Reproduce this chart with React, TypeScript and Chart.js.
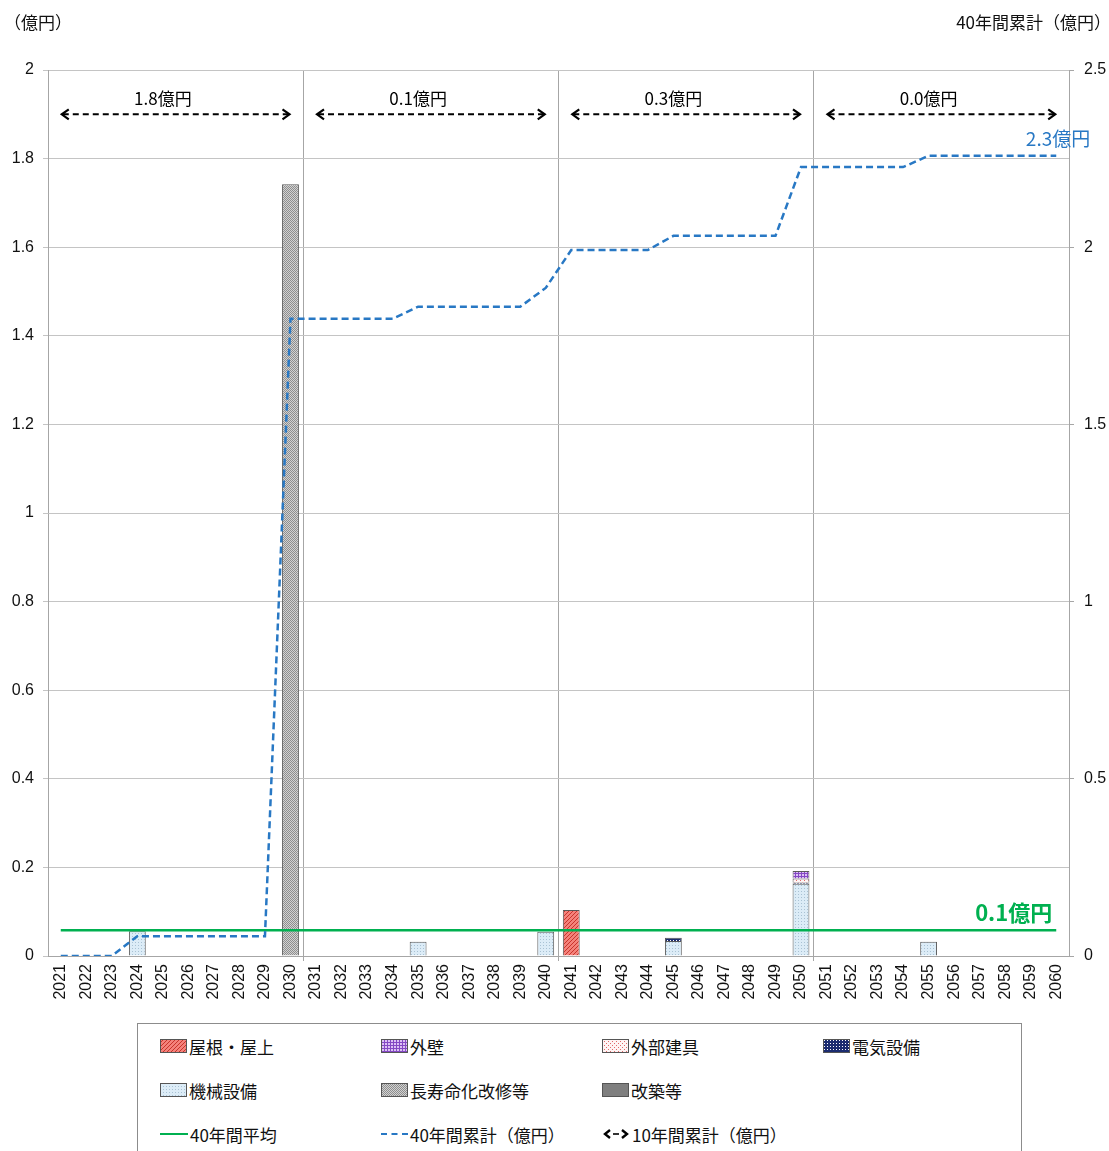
import React, { useEffect, useRef } from "react";
import { Chart, registerables } from "chart.js";
Chart.register(...registerables);

const years = [
  "2021", "2022", "2023", "2024", "2025", "2026", "2027", "2028", "2029", "2030",
  "2031", "2032", "2033", "2034", "2035", "2036", "2037", "2038", "2039", "2040",
  "2041", "2042", "2043", "2044", "2045", "2046", "2047", "2048", "2049", "2050",
  "2051", "2052", "2053", "2054", "2055", "2056", "2057", "2058", "2059", "2060",
];
const N = null;
// 機械設備
const kikaiSetsubi = [
  N, N, N, 0.056, N, N, N, N, N, N,
  N, N, N, N, 0.032, N, N, N, N, 0.055,
  N, N, N, N, 0.034, N, N, N, N, 0.163,
  N, N, N, N, 0.032, N, N, N, N, N,
];
// 電気設備
const denkiSetsubi = [
  N, N, N, N, N, N, N, N, N, N,
  N, N, N, N, N, N, N, N, N, N,
  N, N, N, N, 0.007, N, N, N, N, 0.003,
  N, N, N, N, N, N, N, N, N, N,
];
// 外部建具
const gaibuTategu = [
  N, N, N, N, N, N, N, N, N, N,
  N, N, N, N, N, N, N, N, N, N,
  N, N, N, N, N, N, N, N, N, 0.009,
  N, N, N, N, N, N, N, N, N, N,
];
// 外壁
const gaiheki = [
  N, N, N, N, N, N, N, N, N, N,
  N, N, N, N, N, N, N, N, N, N,
  N, N, N, N, N, N, N, N, N, 0.017,
  N, N, N, N, N, N, N, N, N, N,
];
// 屋根・屋上
const yane = [
  N, N, N, N, N, N, N, N, N, N,
  N, N, N, N, N, N, N, N, N, N,
  0.104, N, N, N, N, N, N, N, N, N,
  N, N, N, N, N, N, N, N, N, N,
];
// 長寿命化改修等
const chojumyo = [
  N, N, N, N, N, N, N, N, N, 1.742,
  N, N, N, N, N, N, N, N, N, N,
  N, N, N, N, N, N, N, N, N, N,
  N, N, N, N, N, N, N, N, N, N,
];
// 改築等
const kaichiku = [
  N, N, N, N, N, N, N, N, N, N,
  N, N, N, N, N, N, N, N, N, N,
  N, N, N, N, N, N, N, N, N, N,
  N, N, N, N, N, N, N, N, N, N,
];
// 40年間平均
const average40 = [
  0.058, 0.058, 0.058, 0.058, 0.058, 0.058, 0.058, 0.058, 0.058, 0.058,
  0.058, 0.058, 0.058, 0.058, 0.058, 0.058, 0.058, 0.058, 0.058, 0.058,
  0.058, 0.058, 0.058, 0.058, 0.058, 0.058, 0.058, 0.058, 0.058, 0.058,
  0.058, 0.058, 0.058, 0.058, 0.058, 0.058, 0.058, 0.058, 0.058, 0.058,
];
// 40年間累計（億円）
const cumulative40 = [
  0, 0, 0, 0.056, 0.056, 0.056, 0.056, 0.056, 0.056, 1.798,
  1.798, 1.798, 1.798, 1.798, 1.832, 1.832, 1.832, 1.832, 1.832, 1.885,
  1.992, 1.992, 1.992, 1.992, 2.032, 2.032, 2.032, 2.032, 2.032, 2.226,
  2.226, 2.226, 2.226, 2.226, 2.258, 2.258, 2.258, 2.258, 2.258, 2.258,
];
// 10年間累計
const decadeStart = ["2021", "2031", "2041", "2051"];
const decadeEnd = ["2030", "2040", "2050", "2060"];
const decadeLabels = ["1.8億円", "0.1億円", "0.3億円", "0.0億円"];
const decadeArrowLevel = 1.9;
const averageLabel = "0.1億円";
const cumulativeLabel = "2.3億円";

const leftTicksTitle = "（億円）";
const rightTicksTitle = "40年間累計（億円）";

const NUM_FONT = "'Liberation Sans', Arial, sans-serif";
const JP_FONT = "'Noto Sans CJK JP', 'Noto Sans', sans-serif";
const GREEN = "#00b050";
const BLUE = "#2878c4";

type Kind = "roof" | "wall" | "fitting" | "elec" | "mech" | "life" | "rebuild";

function makeTile(kind: Kind): HTMLCanvasElement {
  const c = document.createElement("canvas");
  const g = c.getContext("2d")!;
  const px = (x: number, y: number, col: string) => {
    g.fillStyle = col;
    g.fillRect(x, y, 1, 1);
  };
  switch (kind) {
    case "roof":
      c.width = 4; c.height = 4;
      g.fillStyle = "#f4827b"; g.fillRect(0, 0, 4, 4);
      for (let i = 0; i < 4; i++) px(i, 3 - i, "#c8342c");
      break;
    case "wall":
      c.width = 3; c.height = 3;
      g.fillStyle = "#dcc0f4"; g.fillRect(0, 0, 3, 3);
      g.fillStyle = "#8448c4"; g.fillRect(0, 0, 3, 1); g.fillRect(0, 0, 1, 3);
      break;
    case "fitting":
      c.width = 4; c.height = 4;
      g.fillStyle = "#fff4f4"; g.fillRect(0, 0, 4, 4);
      px(0, 0, "#e06a6a"); px(2, 2, "#e06a6a");
      break;
    case "elec":
      c.width = 3; c.height = 3;
      g.fillStyle = "#1c2c70"; g.fillRect(0, 0, 3, 3);
      px(1, 1, "#ffffff");
      break;
    case "mech":
      c.width = 3; c.height = 3;
      g.fillStyle = "#dcecf7"; g.fillRect(0, 0, 3, 3);
      px(0, 0, "#a9c2d4");
      break;
    case "life":
      c.width = 2; c.height = 2;
      g.fillStyle = "#d2d2d2"; g.fillRect(0, 0, 2, 2);
      px(0, 0, "#8e8e8e"); px(1, 1, "#8e8e8e");
      break;
    default:
      c.width = 1; c.height = 1;
      g.fillStyle = "#7f7f7f"; g.fillRect(0, 0, 1, 1);
  }
  return c;
}

function pattern(ctx: CanvasRenderingContext2D, kind: Kind) {
  return ctx.createPattern(makeTile(kind), "repeat")!;
}

const fmt = (v: any) => String(Math.round(Number(v) * 10) / 10);

const overlayPlugin = {
  id: "overlay",
  afterDatasetsDraw(chart: any) {
    const ctx: CanvasRenderingContext2D = chart.ctx;
    const x = chart.scales.x;
    const y = chart.scales.y;
    const y2 = chart.scales.y2;
    ctx.save();
    // decade arrows
    const ay = y.getPixelForValue(decadeArrowLevel);
    decadeLabels.forEach((lab, i) => {
      const i1 = years.indexOf(decadeStart[i]);
      const i2 = years.indexOf(decadeEnd[i]);
      const x1 = x.getPixelForValue(i1);
      const x2 = x.getPixelForValue(i2);
      ctx.strokeStyle = "#000";
      ctx.lineWidth = 2;
      ctx.setLineDash([6, 4]);
      ctx.beginPath();
      ctx.moveTo(x1 + 2, ay);
      ctx.lineTo(x2 - 2, ay);
      ctx.stroke();
      ctx.setLineDash([]);
      ctx.lineWidth = 2.2;
      ctx.beginPath();
      ctx.moveTo(x1 + 8, ay - 5);
      ctx.lineTo(x1 + 1, ay);
      ctx.lineTo(x1 + 8, ay + 5);
      ctx.moveTo(x2 - 8, ay - 5);
      ctx.lineTo(x2 - 1, ay);
      ctx.lineTo(x2 - 8, ay + 5);
      ctx.stroke();
      ctx.fillStyle = "#000";
      ctx.font = `17px ${JP_FONT}`;
      ctx.textAlign = "center";
      ctx.textBaseline = "middle";
      ctx.fillText(lab, x.getPixelForValue(i1 + 4), ay - 16);
    });
    // average label
    const last = years.length - 1;
    ctx.fillStyle = GREEN;
    ctx.font = `bold 22px ${JP_FONT}`;
    ctx.textAlign = "right";
    ctx.textBaseline = "alphabetic";
    ctx.fillText(averageLabel, x.getPixelForValue(last) - 4, y.getPixelForValue(average40[last]) - 9);
    // cumulative label
    ctx.fillStyle = BLUE;
    ctx.font = `19px ${JP_FONT}`;
    ctx.textAlign = "right";
    ctx.fillText(cumulativeLabel, x.getPixelForValue(last) + 34, y2.getPixelForValue(cumulative40[last]) - 10);
    ctx.restore();
  },
};

function Swatch({ kind }: { kind: Kind }) {
  const ref = useRef<HTMLCanvasElement>(null);
  useEffect(() => {
    const c = ref.current!;
    const g = c.getContext("2d")!;
    g.fillStyle = pattern(g, kind);
    g.fillRect(0, 0, c.width, c.height);
    g.strokeStyle = "#555";
    g.lineWidth = 1;
    g.strokeRect(0.5, 0.5, c.width - 1, c.height - 1);
  }, [kind]);
  return <canvas ref={ref} width={27} height={14} style={{ display: "block" }} />;
}

const legendRows: { kind: Kind | "avg" | "cum" | "arrow"; label: string }[][] = [
  [
    { kind: "roof", label: "屋根・屋上" },
    { kind: "wall", label: "外壁" },
    { kind: "fitting", label: "外部建具" },
    { kind: "elec", label: "電気設備" },
  ],
  [
    { kind: "mech", label: "機械設備" },
    { kind: "life", label: "長寿命化改修等" },
    { kind: "rebuild", label: "改築等" },
  ],
  [
    { kind: "avg", label: "40年間平均" },
    { kind: "cum", label: "40年間累計（億円）" },
    { kind: "arrow", label: "10年間累計（億円）" },
  ],
];

function LegendMark({ kind }: { kind: string }) {
  if (kind === "avg")
    return <div style={{ width: 28, height: 0, borderTop: `2.5px solid ${GREEN}` }} />;
  if (kind === "cum")
    return <div style={{ width: 27, height: 0, borderTop: `2.5px dashed ${BLUE}` }} />;
  if (kind === "arrow")
    return (
      <svg width={28} height={12} style={{ display: "block" }}>
        <path d="M8 2 L3 6 L8 10 M20 2 L25 6 L20 10" stroke="#000" strokeWidth={2.4} fill="none" />
        <path d="M11 6 L17 6" stroke="#000" strokeWidth={1.6} />
      </svg>
    );
  return <Swatch kind={kind as Kind} />;
}

export default function App() {
  const canvasRef = useRef<HTMLCanvasElement>(null);
  useEffect(() => {
    const canvas = canvasRef.current!;
    const ctx = canvas.getContext("2d")!;
    const border = "#595959";
    const bar = (label: string, data: (number | null)[], kind: Kind) => ({
      type: "bar" as const,
      label,
      data,
      backgroundColor: pattern(ctx, kind),
      borderColor: border,
      borderWidth: 1,
      stack: "cost",
      yAxisID: "y",
      order: 2,
      categoryPercentage: 1,
      barPercentage: 0.66,
    });
    const chart = new Chart(ctx, {
      type: "bar",
      data: {
        labels: years,
        datasets: [
          bar("機械設備", kikaiSetsubi, "mech"),
          bar("電気設備", denkiSetsubi, "elec"),
          bar("外部建具", gaibuTategu, "fitting"),
          bar("外壁", gaiheki, "wall"),
          bar("屋根・屋上", yane, "roof"),
          bar("長寿命化改修等", chojumyo, "life"),
          bar("改築等", kaichiku, "rebuild"),
          {
            type: "line",
            label: "40年間平均",
            data: average40,
            borderColor: GREEN,
            borderWidth: 2.5,
            pointRadius: 0,
            stack: "avg",
            yAxisID: "y",
            order: 1,
          } as any,
          {
            type: "line",
            label: "40年間累計（億円）",
            data: cumulative40,
            borderColor: BLUE,
            borderWidth: 2.5,
            borderDash: [7, 4],
            pointRadius: 0,
            tension: 0,
            yAxisID: "y2",
            order: 0,
          } as any,
        ],
      },
      options: {
        responsive: false,
        animation: false,
        devicePixelRatio: 1,
        layout: { padding: { top: 70, left: 0, right: 0, bottom: 0 } },
        plugins: { legend: { display: false }, tooltip: { enabled: false } },
        scales: {
          x: {
            stacked: true,
            offset: true,
            grid: {
              offset: true,
              color: (c: any) =>
                c.index && c.index % 10 === 0 && c.index < 40 ? "#a6a6a6" : "rgba(0,0,0,0)",
              tickLength: 5,
            },
            border: { color: "#a6a6a6" },
            ticks: {
              autoSkip: false,
              maxRotation: 90,
              minRotation: 90,
              padding: 3,
              color: "#111",
              font: { family: NUM_FONT, size: 16 },
            },
            afterFit: (s: any) => {
              s.height = 54;
            },
          },
          y: {
            stacked: true,
            position: "left",
            min: 0,
            max: 2,
            ticks: {
              stepSize: 0.2,
              padding: 9,
              color: "#111",
              font: { family: NUM_FONT, size: 16 },
              callback: fmt,
            },
            grid: { color: "#c4c4c4", tickLength: 5 },
            border: { color: "#a6a6a6" },
            afterFit: (s: any) => {
              s.width = 48;
            },
          },
          y2: {
            position: "right",
            min: 0,
            max: 2.5,
            ticks: {
              stepSize: 0.5,
              padding: 10,
              color: "#111",
              font: { family: NUM_FONT, size: 16 },
              callback: fmt,
            },
            grid: { drawOnChartArea: false, color: "#a6a6a6", tickLength: 5 },
            border: { color: "#a6a6a6" },
            afterFit: (s: any) => {
              s.width = 40;
            },
          },
        },
      },
      plugins: [overlayPlugin],
    } as any);
    return () => chart.destroy();
  }, []);

  const colX = [160, 381, 602, 823];
  const rowY = [1046, 1090, 1134];

  return (
    <div style={{ position: "fixed", left: 0, top: 0, width: 1109, height: 1151, overflow: "hidden", background: "#fff" }}>
      <canvas ref={canvasRef} width={1109} height={1010} style={{ position: "absolute", left: 0, top: 0 }} />
      <div style={{ position: "absolute", left: 4, top: 9, fontFamily: JP_FONT, fontSize: 17, color: "#111", whiteSpace: "nowrap" }}>
        {leftTicksTitle}
      </div>
      <div style={{ position: "absolute", right: -2, top: 9, fontFamily: JP_FONT, fontSize: 17, color: "#111", whiteSpace: "nowrap" }}>
        {rightTicksTitle}
      </div>
      <div style={{ position: "absolute", left: 137, top: 1023, width: 885, height: 160, border: "1px solid #8c8c8c", boxSizing: "border-box" }} />
      {legendRows.map((row, r) =>
        row.map((it, c) => (
          <div
            key={`${r}-${c}`}
            style={{
              position: "absolute",
              left: colX[c],
              top: rowY[r] - 12,
              height: 24,
              display: "flex",
              alignItems: "center",
              gap: 2,
              fontFamily: JP_FONT,
              fontSize: 17,
              color: "#111",
              whiteSpace: "nowrap",
            }}
          >
            <LegendMark kind={it.kind} />
            <span>{it.label}</span>
          </div>
        ))
      )}
    </div>
  );
}
